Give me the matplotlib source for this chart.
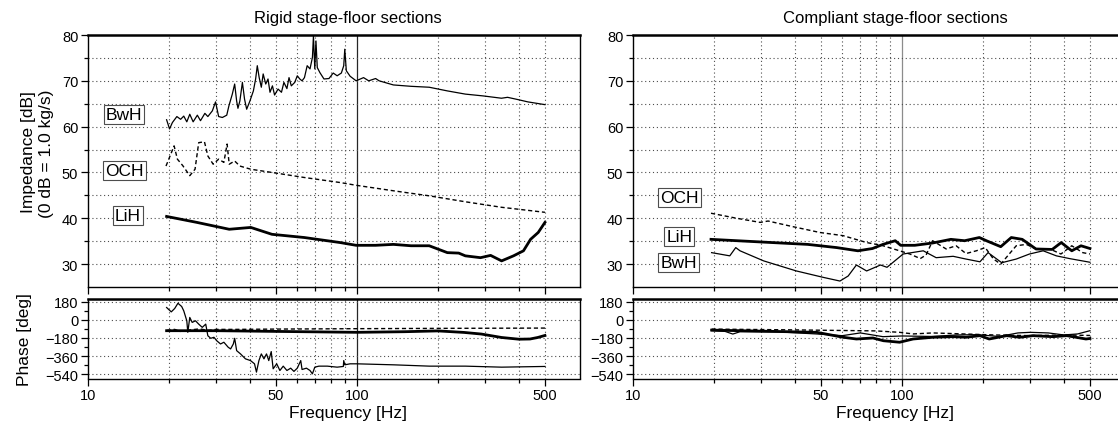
import matplotlib
matplotlib.use("Agg")
import matplotlib.pyplot as plt

plt.rcParams['font.family'] = ['Liberation Sans', 'DejaVu Sans']

# ---- Rigid stage-floor sections: impedance [dB] ----
rig_bwh_f = [19.6, 20.1, 20.6, 21.4, 22.1, 22.7, 23.3, 23.9, 24.6, 25.5,
             26.2, 27.2, 27.9, 29.0, 29.8, 30.6, 31.6, 32.8, 33.4, 34.4,
             35.1, 35.7, 36.1, 36.7, 37.5, 38.2, 38.9, 40.0, 41.2, 42.0,
             42.6, 43.3, 44.1, 44.8, 45.8, 46.7, 47.5, 48.5, 49.4, 50.9,
             52.4, 53.5, 54.9, 55.9, 57.0, 58.7, 60.0, 61.3, 62.5, 63.8,
             65.3, 66.9, 68.3, 68.9, 69.7, 70.4, 71.2, 72.8, 75.4, 78.7,
             81.6, 84.4, 87.5, 89.3, 90.1, 91.3, 94.3, 99.3, 105.8, 110.6,
             117.3, 120.9, 136.6, 158.9, 185.6, 216.8, 252.9, 295, 344.6, 363,
             397, 432, 500]
rig_bwh_db = [61.5, 59.5, 60.9, 62.2, 61.6, 62.3, 61.05, 62.7, 61.05, 62.5,
              61.3, 62.9, 62.2, 63.45, 65.4, 62.2, 62.0, 62.5, 64.5, 67.1,
              69.3, 65.6, 64.0, 65.6, 69.65, 66.0, 63.8, 65.6, 67.8, 70.4,
              73.3, 70.7, 68.6, 71.5, 69.3, 70.4, 67.5, 68.9, 66.9, 68.2,
              67.5, 69.65, 68.3, 70.7, 68.9, 69.65, 71.1, 70.4, 70.0, 70.7,
              73.3, 72.6, 75.1, 79.8, 72.6, 78.7, 72.9, 71.8, 70.4, 70.5,
              71.7, 71.1, 71.7, 73.3, 76.9, 72.2, 71.0, 70.0, 70.7, 70.0,
              70.5, 70.0, 69.1, 68.8, 68.6, 67.8, 67.1, 66.7, 66.2, 66.4,
              65.9, 65.4, 64.8]
rig_och_f = [19.5, 20.9, 21.5, 22.5, 23.9, 25.0, 25.8, 27.1, 27.9, 29.2,
             30.6, 32.0, 32.9, 33.5, 35.1, 36.7, 40.3, 48.3, 63.7, 86.6,
             99.3, 136.6, 185.6, 252.9, 344.6, 500]
rig_och_db = [51.4, 55.8, 52.9, 51.5, 49.3, 50.7, 56.5, 56.7, 53.6, 51.8,
              52.9, 52.2, 56.2, 51.8, 52.5, 51.4, 50.7, 50.0, 48.9, 47.8,
              47.2, 46.0, 44.9, 43.6, 42.4, 41.3]
rig_lih_f = [19.6, 25.4, 33.5, 40.3, 48.3, 63.7, 86.6, 99.3, 117.3, 136.6,
             158.9, 185.6, 216.8, 239, 252.9, 288, 314, 345, 382, 416,
             442, 472, 500]
rig_lih_db = [40.4, 39.1, 37.6, 38.0, 36.5, 35.8, 34.7, 34.1, 34.1, 34.3,
              34.0, 34.0, 32.5, 32.4, 31.8, 31.4, 31.9, 30.7, 31.8, 32.9,
              35.4, 36.9, 39.1]

# ---- Rigid: phase [deg] ----
rig_bwh_pf = [19.6, 20.4, 21.0, 21.6, 22.3, 22.7, 23.3, 23.5, 23.9, 24.4,
              25.1, 25.8, 26.6, 27.4, 27.9, 28.6, 29.4, 30.1, 31.1, 32.0,
              33.2, 33.9, 34.7, 35.1, 35.7, 36.9, 38.5, 40.2, 41.6, 42.3,
              43.2, 44.1, 45.1, 46.1, 47.0, 48.0, 48.8, 50.3, 51.7, 53.2,
              54.9, 56.7, 58.3, 60.0, 61.8, 62.5, 64.9, 66.9, 68.3, 69.7,
              72.2, 77.6, 84.4, 89.0, 89.3, 90.1, 94.3, 100, 137, 186,
              253, 345, 500]
rig_bwh_ph = [121, 78, 111, 163, 131, 88, -10, -124, 23, -26,
              -10, -43, -75, -43, -158, -183, -173, -207, -239, -222,
              -271, -288, -239, -183, -305, -337, -386, -403, -435, -517,
              -403, -337, -386, -337, -403, -314, -484, -435, -501, -458,
              -501, -478, -510, -478, -403, -491, -478, -501, -534, -468,
              -458, -458, -468, -461, -403, -445, -435, -435, -445, -458,
              -458, -468, -461]
rig_och_pf = [19.6, 21, 22, 24, 26, 28, 30, 35, 50, 100, 200, 500]
rig_och_ph = [-105, -95, -115, -100, -90, -105, -95, -95, -92, -88, -85, -82]
rig_lih_pf = [19.6, 30, 50, 100, 150, 200, 250, 290, 345, 400, 440, 470, 500]
rig_lih_ph = [-108, -108, -115, -124, -118, -110, -125, -141, -175, -192,
              -190, -175, -155]

# ---- Compliant stage-floor sections: impedance [dB] ----
com_och_f = [19.5, 24.3, 29.7, 31.8, 38.4, 49.5, 60.5, 73.9, 84, 98,
             107, 117, 123, 130, 146, 159, 173, 189, 204, 219,
             233, 253, 266, 290, 316, 355, 390, 428, 470, 500]
com_och_db = [41.1, 40.0, 39.1, 39.4, 38.3, 36.9, 36.2, 34.7, 34.1, 32.9,
              32.2, 31.2, 32.0, 35.1, 33.3, 34.0, 32.3, 32.9, 33.6, 31.1,
              30.0, 32.5, 34.0, 34.3, 33.3, 33.3, 32.2, 34.0, 32.5, 32.2]
com_lih_f = [19.5, 32.9, 44.6, 57.2, 68.6, 77.7, 85, 94.4, 98.9, 111.6,
             130, 152, 171, 194, 206, 233, 255, 280, 315, 362,
             391, 428, 463, 500]
com_lih_db = [35.4, 34.7, 34.3, 33.6, 32.9, 33.4, 34.3, 35.1, 34.1, 34.1,
              34.6, 35.4, 35.1, 35.8, 35.1, 33.8, 35.8, 35.4, 33.3, 33.2,
              34.7, 32.9, 34.0, 33.4]
com_bwh_f = [19.6, 22.9, 24.1, 25.0, 30.6, 40.5, 51.0, 58.8, 63.1, 67.7,
             73.9, 83.2, 88.0, 101, 120, 134, 155, 173, 195, 209,
             235, 266, 298, 335, 375, 420, 500]
com_bwh_db = [32.5, 31.8, 33.6, 32.9, 30.7, 28.5, 27.1, 26.3, 27.4, 29.8,
              28.5, 29.8, 29.3, 32.2, 32.9, 31.4, 31.7, 31.1, 30.5, 32.5,
              30.3, 31.1, 32.2, 32.9, 31.8, 31.2, 30.4]

# ---- Compliant: phase [deg] ----
com_lih_pf = [19.6, 48.2, 60.5, 67.7, 78, 85.3, 98, 110, 130, 155,
              173, 195, 211, 245, 274, 307, 364, 410, 483, 500]
com_lih_ph = [-102, -124, -173, -190, -180, -207, -222, -190, -173, -167,
              -173, -157, -190, -157, -173, -157, -167, -157, -190, -185]
com_och_pf = [19.6, 40, 80, 98, 110, 130, 170, 220, 300, 400, 500]
com_och_ph = [-92, -100, -110, -124, -140, -130, -140, -150, -157, -150, -155]
com_bwh_pf = [19.6, 22, 23.5, 25, 35, 48, 60, 70, 85, 100,
              130, 160, 190, 230, 270, 300, 350, 400, 450, 500]
com_bwh_ph = [-108, -115, -141, -118, -120, -140, -157, -130, -167, -160,
              -165, -150, -147, -165, -130, -124, -130, -150, -140, -108]

grid_f = [20, 30, 40, 50, 60, 70, 80, 90, 200, 300, 400, 500]
db_ticks = [30, 40, 50, 60, 70, 80]
db_minor = [35, 45, 55, 65, 75]
ph_ticks = [180, 0, -180, -360, -540]
ph_minor = [90, -90, -270, -450]

W, H = 1118, 427
fig = plt.figure(figsize=(W / 100, H / 100), dpi=100)


def px_axes(x0, y0, x1, y1):
    return fig.add_axes([x0 / W, 1 - y1 / H, (x1 - x0) / W, (y1 - y0) / H])


def style(ax, vline_col, bottom_labels):
    ax.set_xscale('log')
    ax.set_xlim(10, 675)
    ax.set_xticks([10, 50, 100, 500])
    ax.set_xticks([20, 30, 40, 60, 70, 80, 90, 200, 300, 400], minor=True)
    ax.set_xticklabels(['10', '50', '100', '500'])
    for f in grid_f:
        ax.axvline(f, color='0.3', lw=0.8, ls=(0, (1, 2.5)), zorder=1)
    ax.axvline(100, color=vline_col, lw=0.9, zorder=1)
    ax.tick_params(which='both', direction='out', width=0.9, top=False, right=False,
                   labelsize=10.5, pad=2)
    ax.tick_params(which='major', length=5)
    ax.tick_params(which='minor', length=3)
    ax.tick_params(axis='x', labelbottom=bottom_labels, pad=2)
    for s in ax.spines.values():
        s.set_linewidth(1.0)
    ax.spines['top'].set_linewidth(1.8)


def label_box(ax, x, y, txt):
    ax.text(x, y, txt, ha='right', va='center', fontsize=12.5, zorder=5,
            bbox=dict(boxstyle='square,pad=0.12', fc='white', ec='0.3', lw=0.8))


panels = [
    (88, 'Rigid stage-floor sections', 348, '0.15',
     (rig_bwh_f, rig_bwh_db), (rig_och_f, rig_och_db), (rig_lih_f, rig_lih_db),
     (rig_bwh_pf, rig_bwh_ph), (rig_och_pf, rig_och_ph), (rig_lih_pf, rig_lih_ph),
     [(15.9, 62.7, 'BwH'), (16.1, 50.5, 'OCH'), (15.7, 40.6, 'LiH')]),
    (633, 'Compliant stage-floor sections', 895, '0.55',
     (com_bwh_f, com_bwh_db), (com_och_f, com_och_db), (com_lih_f, com_lih_db),
     (com_bwh_pf, com_bwh_ph), (com_och_pf, com_och_ph), (com_lih_pf, com_lih_ph),
     [(17.6, 44.6, 'OCH'), (16.6, 36.1, 'LiH'), (17.3, 30.4, 'BwH')]),
]

for (x0, title, tx, vcol, bwh, och, lih, bwh_p, och_p, lih_p, labels) in panels:
    ax = px_axes(x0, 36, x0 + 492, 288)
    style(ax, vcol, False)
    ax.set_ylim(25, 80)
    ax.set_yticks(db_ticks)
    ax.set_yticks(db_minor, minor=True)
    for v in db_ticks[:-1] + db_minor:
        ax.axhline(v, color='0.3', lw=0.8, ls=(0, (1, 2.5)), zorder=1)
    ax.plot(bwh[0], bwh[1], color='black', lw=0.9, zorder=3)
    ax.plot(och[0], och[1], color='black', lw=1.0, ls=(0, (3, 2)), zorder=3)
    ax.plot(lih[0], lih[1], color='black', lw=2.0, zorder=3)
    for lx, ly, lt in labels:
        label_box(ax, lx, ly, lt)

    axp = px_axes(x0, 299.5, x0 + 492, 379.5)
    style(axp, vcol, True)
    axp.set_ylim(-580, 210)
    axp.set_yticks(ph_ticks)
    axp.set_yticks(ph_minor, minor=True)
    for v in ph_ticks:
        axp.axhline(v, color='0.3', lw=0.8, ls=(0, (1, 2.5)), zorder=1)
    axp.plot(bwh_p[0], bwh_p[1], color='black', lw=0.9, zorder=3)
    axp.plot(och_p[0], och_p[1], color='black', lw=1.0, ls=(0, (3, 2)), zorder=3)
    axp.plot(lih_p[0], lih_p[1], color='black', lw=2.0, zorder=3)

    fig.text(tx / W, 1 - 18 / H, title, ha='center', va='center', fontsize=12)
    fig.text(tx / W, 1 - 414 / H, 'Frequency [Hz]', ha='center', va='center', fontsize=12.5)

fig.text(29 / W, 1 - 152 / H, 'Impedance [dB]', rotation=90, ha='center', va='center',
         fontsize=12.5)
fig.text(47 / W, 1 - 154 / H, '(0 dB = 1.0 kg/s)', rotation=90, ha='center', va='center',
         fontsize=12.5)
fig.text(25 / W, 1 - 340 / H, 'Phase [deg]', rotation=90, ha='center', va='center',
         fontsize=12.5)

fig.savefig('out.png', dpi=100)
